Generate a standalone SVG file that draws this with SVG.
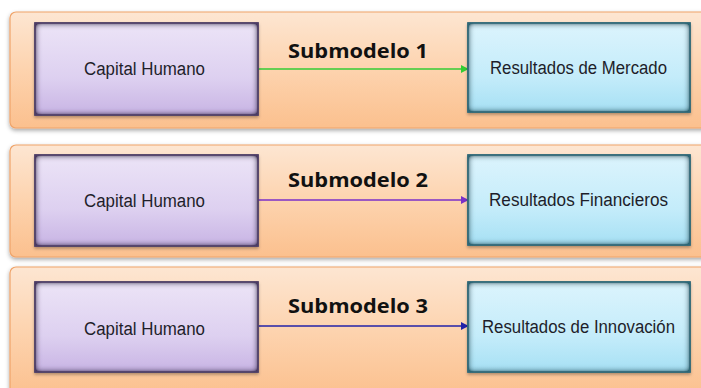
<svg xmlns="http://www.w3.org/2000/svg" width="701" height="388" viewBox="0 0 701 388">
  <style>
    .panel { fill: url(#panelFill); stroke: #f0a46a; stroke-width: 1.2; filter: url(#panelShadow); }
    .src { fill: url(#purpleFill); stroke: #5d4d74; stroke-width: 1.5; filter: url(#innerPurple); }
    .dst { fill: url(#blueFill); stroke: #3f7584; stroke-width: 1.5; filter: url(#innerBlue); }
    .label { font-family: "Liberation Sans", Arial, sans-serif; font-size: 18px; fill: #1e1e2a; }
    .title { font-family: "Open Sans", "Liberation Sans", sans-serif; font-weight: bold; font-size: 19px; fill: #111; }
    .edge { stroke-width: 1.3; fill: none; }
  </style>
  <defs>
    <linearGradient id="panelFill" x1="0" y1="0" x2="0" y2="1">
      <stop offset="0" stop-color="#fde6d2"/>
      <stop offset="0.5" stop-color="#fdd3ae"/>
      <stop offset="1" stop-color="#fbc08e"/>
    </linearGradient>
    <linearGradient id="purpleFill" x1="0" y1="0" x2="0" y2="1">
      <stop offset="0" stop-color="#ece4f7"/>
      <stop offset="0.6" stop-color="#ddd0f0"/>
      <stop offset="1" stop-color="#c8b4e4"/>
    </linearGradient>
    <linearGradient id="blueFill" x1="0" y1="0" x2="0" y2="1">
      <stop offset="0" stop-color="#dcf4fd"/>
      <stop offset="0.6" stop-color="#c4ecfa"/>
      <stop offset="1" stop-color="#a6e0f4"/>
    </linearGradient>
    <filter id="panelShadow" x="-5%" y="-10%" width="110%" height="125%">
      <feGaussianBlur in="SourceAlpha" stdDeviation="2"/>
      <feOffset dy="2" result="b"/>
      <feFlood flood-color="#000" flood-opacity="0.35"/>
      <feComposite in2="b" operator="in" result="s"/>
      <feMerge><feMergeNode in="s"/><feMergeNode in="SourceGraphic"/></feMerge>
    </filter>
    <!-- inner glow: dark halo blurred inward, plus a soft drop shadow -->
    <filter id="innerPurple" x="-10%" y="-20%" width="120%" height="140%">
      <feFlood flood-color="#4c3c63" result="c"/>
      <feComposite in="c" in2="SourceAlpha" operator="out"/>
      <feGaussianBlur stdDeviation="3.5"/>
      <feComponentTransfer><feFuncA type="linear" slope="2.2"/></feComponentTransfer>
      <feComposite in2="SourceAlpha" operator="in" result="glow"/>
      <feGaussianBlur in="SourceAlpha" stdDeviation="1.5"/>
      <feOffset dy="1.5" result="ds"/>
      <feFlood flood-color="#000" flood-opacity="0.3"/>
      <feComposite in2="ds" operator="in" result="drop"/>
      <feMerge><feMergeNode in="drop"/><feMergeNode in="SourceGraphic"/><feMergeNode in="glow"/></feMerge>
    </filter>
    <filter id="innerBlue" x="-10%" y="-20%" width="120%" height="140%">
      <feFlood flood-color="#2f6675" result="c"/>
      <feComposite in="c" in2="SourceAlpha" operator="out"/>
      <feGaussianBlur stdDeviation="3.5"/>
      <feComponentTransfer><feFuncA type="linear" slope="2.2"/></feComponentTransfer>
      <feComposite in2="SourceAlpha" operator="in" result="glow"/>
      <feGaussianBlur in="SourceAlpha" stdDeviation="1.5"/>
      <feOffset dy="1.5" result="ds"/>
      <feFlood flood-color="#000" flood-opacity="0.3"/>
      <feComposite in2="ds" operator="in" result="drop"/>
      <feMerge><feMergeNode in="drop"/><feMergeNode in="SourceGraphic"/><feMergeNode in="glow"/></feMerge>
    </filter>
    <marker id="headGreen" viewBox="0 0 10 10" refX="9" refY="5" markerWidth="8" markerHeight="8" markerUnits="userSpaceOnUse" orient="auto">
      <path d="M0,0 L10,5 L0,10 Z" fill="#33cc33"/>
    </marker>
    <marker id="headPurple" viewBox="0 0 10 10" refX="9" refY="5" markerWidth="8" markerHeight="8" markerUnits="userSpaceOnUse" orient="auto">
      <path d="M0,0 L10,5 L0,10 Z" fill="#7a2fc8"/>
    </marker>
    <marker id="headBlue" viewBox="0 0 10 10" refX="9" refY="5" markerWidth="8" markerHeight="8" markerUnits="userSpaceOnUse" orient="auto">
      <path d="M0,0 L10,5 L0,10 Z" fill="#2222a8"/>
    </marker>
  </defs>

  <rect width="701" height="388" fill="#ffffff"/>

  <!-- background bands, one per submodel -->
  <g id="panel1"><rect class="panel" x="10" y="12" width="700" height="116" rx="6"/></g>
  <g id="panel2"><rect class="panel" x="10" y="145" width="700" height="112" rx="6"/></g>
  <g id="panel3"><rect class="panel" x="10" y="267" width="700" height="130" rx="6"/></g>

  <!-- submodel titles -->
  <g id="titles">
    <text class="title" x="288" y="58" textLength="140" lengthAdjust="spacingAndGlyphs">Submodelo 1</text>
    <text class="title" x="288" y="187" textLength="140" lengthAdjust="spacingAndGlyphs">Submodelo 2</text>
    <text class="title" x="288" y="313" textLength="140" lengthAdjust="spacingAndGlyphs">Submodelo 3</text>
  </g>

  <!-- connectors -->
  <g id="connectors">
    <line class="edge" x1="258" y1="69" x2="468" y2="69" stroke="#33cc33" marker-end="url(#headGreen)"/>
    <line class="edge" x1="258" y1="200" x2="468" y2="200" stroke="#7a2fc8" marker-end="url(#headPurple)"/>
    <line class="edge" x1="258" y1="326" x2="468" y2="326" stroke="#2222a8" marker-end="url(#headBlue)"/>
  </g>

  <!-- source nodes -->
  <g id="capital1">
    <rect class="src" x="35" y="23" width="223" height="92"/>
    <text class="label" x="84" y="75" textLength="121" lengthAdjust="spacingAndGlyphs">Capital Humano</text>
  </g>
  <g id="capital2">
    <rect class="src" x="35" y="155" width="223" height="91"/>
    <text class="label" x="84" y="207" textLength="121" lengthAdjust="spacingAndGlyphs">Capital Humano</text>
  </g>
  <g id="capital3">
    <rect class="src" x="35" y="282" width="223" height="90"/>
    <text class="label" x="84" y="335" textLength="121" lengthAdjust="spacingAndGlyphs">Capital Humano</text>
  </g>

  <!-- result nodes -->
  <g id="mercado">
    <rect class="dst" x="468" y="23" width="222" height="89"/>
    <text class="label" x="490" y="74" textLength="177" lengthAdjust="spacingAndGlyphs">Resultados de Mercado</text>
  </g>
  <g id="financieros">
    <rect class="dst" x="468" y="155" width="222" height="90"/>
    <text class="label" x="489" y="206" textLength="179" lengthAdjust="spacingAndGlyphs">Resultados Financieros</text>
  </g>
  <g id="innovacion">
    <rect class="dst" x="468" y="282" width="222" height="90"/>
    <text class="label" x="482" y="333" textLength="193" lengthAdjust="spacingAndGlyphs">Resultados de Innovación</text>
  </g>
</svg>
